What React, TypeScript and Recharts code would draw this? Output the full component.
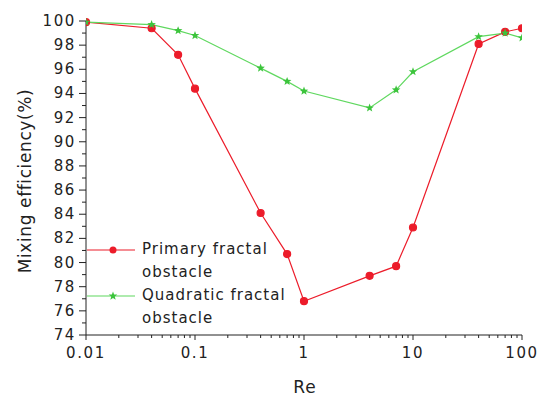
import { LineChart, Line, XAxis, YAxis } from "recharts";

// Re values on the log axis and the two efficiency curves (%)
const reValues = [0.01, 0.04, 0.07, 0.1, 0.4, 0.7, 1, 4, 7, 10, 40, 70, 100];
const primaryEff = [99.9, 99.4, 97.2, 94.4, 84.1, 80.7, 76.8, 78.9, 79.7, 82.9, 98.1, 99.1, 99.4];
const quadraticEff = [99.9, 99.7, 99.2, 98.8, 96.1, 95.0, 94.2, 92.8, 94.3, 95.8, 98.7, 99.0, 98.6];

const xMajorTicks = [0.01, 0.1, 1, 10, 100];
const xMinorTicks = [
  0.02, 0.03, 0.04, 0.05, 0.06, 0.07, 0.08, 0.09,
  0.2, 0.3, 0.4, 0.5, 0.6, 0.7, 0.8, 0.9,
  2, 3, 4, 5, 6, 7, 8, 9,
  20, 30, 40, 50, 60, 70, 80, 90,
];
const yMajorTicks = [74, 76, 78, 80, 82, 84, 86, 88, 90, 92, 94, 96, 98, 100];
const yMinorTicks = [75, 77, 79, 81, 83, 85, 87, 89, 91, 93, 95, 97, 99];

const legendNames = ["Primary fractal\nobstacle", "Quadratic fractal\nobstacle"];

const RED = "#ec1c2a";
const GREEN = "#5fd85f";
const STAR = "#3cc43c";
const FONT = "DejaVu Sans";

const data = reValues.map((re, i) => ({
  re,
  primary: primaryEff[i],
  quadratic: quadraticEff[i],
}));

const textStyle = { fontFamily: FONT, fontSize: 15, letterSpacing: 1.6, fill: "#222" };

function XTick({ x, y, payload }: any) {
  const major = xMajorTicks.includes(payload.value);
  return (
    <g>
      <line x1={x} x2={x} y1={y} y2={y + (major ? 5 : 3)} stroke="#222" />
      {major && (
        <text x={x} y={y + 23} textAnchor="middle" style={textStyle}>
          {payload.value}
        </text>
      )}
    </g>
  );
}

function YTick({ x, y, payload }: any) {
  const major = yMajorTicks.includes(payload.value);
  return (
    <g>
      <line x1={x - (major ? 7 : 4)} x2={x} y1={y} y2={y} stroke="#222" />
      {major && (
        <text x={x - 10} y={y + 5} textAnchor="end" style={textStyle}>
          {payload.value}
        </text>
      )}
    </g>
  );
}

function StarDot({ cx, cy, fill }: any) {
  const pts: string[] = [];
  for (let k = 0; k < 10; k++) {
    const r = k % 2 === 0 ? 4.5 : 1.9;
    const a = -Math.PI / 2 + (k * Math.PI) / 5;
    pts.push(`${cx + r * Math.cos(a)},${cy + r * Math.sin(a)}`);
  }
  return <polygon points={pts.join(" ")} fill={fill} />;
}

const legendItems = [
  { name: legendNames[0], color: RED, star: false },
  { name: legendNames[1], color: GREEN, star: true },
];

export default function App() {
  return (
    <div style={{ position: "absolute", left: 0, top: 0, width: 541, height: 398, background: "#fff" }}>
      <LineChart width={541} height={398} data={data} margin={{ top: 21, right: 19, bottom: 0, left: 0 }}>
        <XAxis
          dataKey="re"
          type="number"
          scale="log"
          domain={[0.01, 100]}
          ticks={[...xMajorTicks, ...xMinorTicks]}
          interval={0}
          tickSize={0}
          tickMargin={0}
          tick={<XTick />}
          height={63}
          stroke="#222"
          allowDataOverflow
          label={() => (
            <text x={305} y={393} textAnchor="middle" style={{ ...textStyle, fontSize: 17, letterSpacing: 1 }}>
              Re
            </text>
          )}
        />
        <YAxis
          type="number"
          domain={[74, 100]}
          ticks={[...yMajorTicks, ...yMinorTicks]}
          interval={0}
          tickSize={0}
          tickMargin={0}
          tick={<YTick />}
          width={86}
          stroke="#222"
          label={() => (
            <text
              x={25}
              y={181}
              transform="rotate(-90 25 181)"
              textAnchor="middle"
              dominantBaseline="central"
              style={{ ...textStyle, fontSize: 17, letterSpacing: 0.6 }}
            >
              Mixing efficiency(%)
            </text>
          )}
        />
        <Line
          dataKey="primary"
          stroke={RED}
          strokeWidth={1.2}
          dot={{ r: 3.5, fill: RED, stroke: RED }}
          isAnimationActive={false}
        />
        <Line
          dataKey="quadratic"
          stroke={GREEN}
          strokeWidth={1.2}
          dot={<StarDot fill={STAR} />}
          isAnimationActive={false}
        />
      </LineChart>
      <div style={{ position: "absolute", left: 87, top: 238 }}>
        {legendItems.map((it) => (
          <div key={it.name} style={{ display: "flex", alignItems: "flex-start" }}>
            <svg width={55} height={23} style={{ flex: "none" }}>
              <line x1={0} x2={48} y1={12} y2={12} stroke={it.color} strokeWidth={1.2} />
              {it.star ? (
                <StarDot cx={26} cy={12} fill={STAR} />
              ) : (
                <circle cx={26} cy={12} r={3.5} fill={RED} />
              )}
            </svg>
            <div
              style={{
                fontFamily: FONT,
                fontSize: 15,
                letterSpacing: 1,
                lineHeight: "23px",
                color: "#222",
                whiteSpace: "pre-line",
              }}
            >
              {it.name}
            </div>
          </div>
        ))}
      </div>
    </div>
  );
}
